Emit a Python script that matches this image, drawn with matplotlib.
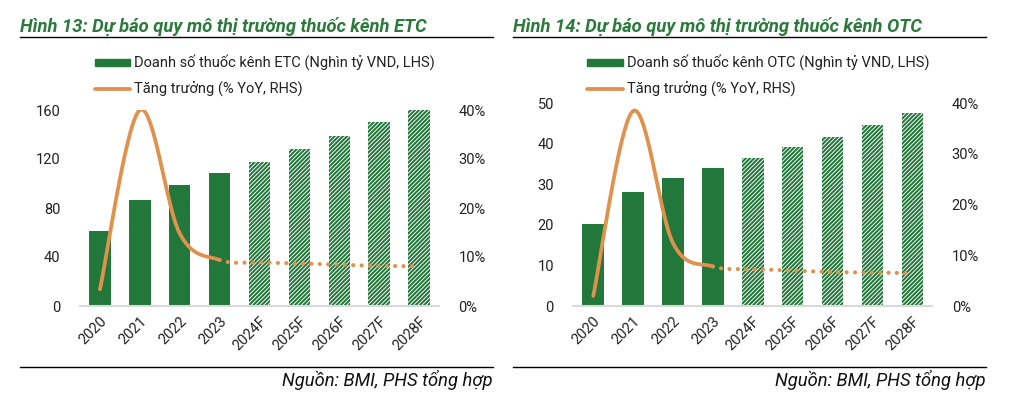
import numpy as np
import matplotlib
matplotlib.use("Agg")
import matplotlib.pyplot as plt
from matplotlib.patches import Rectangle
from matplotlib.lines import Line2D
from matplotlib.ticker import FuncFormatter

plt.rcParams['font.family'] = ['Roboto', 'DejaVu Sans']
plt.rcParams['hatch.linewidth'] = 1.45

years = ["2020", "2021", "2022", "2023", "2024F", "2025F", "2026F", "2027F", "2028F"]
etc_sales = [61.5, 86.5, 98.8, 108.3, 117.3, 128.0, 138.8, 150.2, 160.0]
etc_growth = [3.4, 40.0, 14.8, 9.4, 8.9, 8.7, 8.4, 8.2, 8.1]
otc_sales = [20.2, 28.0, 31.5, 34.0, 36.5, 39.2, 41.7, 44.6, 47.5]
otc_growth = [2.0, 38.5, 12.4, 7.8, 7.3, 7.0, 6.7, 6.6, 6.5]
n_actual = 4

GREEN = "#22773a"
ORANGE = "#e0914c"
TITLE_GREEN = "#2b7a3b"

W, H = 1011, 397
fig = plt.figure(figsize=(W / 100, H / 100), dpi=100)


def px_ax(x0, y0, x1, y1):
    return fig.add_axes([x0 / W, 1 - y1 / H, (x1 - x0) / W, (y1 - y0) / H])


def catmull(xs, ys, n=30):
    xs = np.asarray(xs, float)
    ys = np.asarray(ys, float)
    P = np.column_stack([xs, ys])
    P = np.vstack([P[0], P, P[-1]])
    out = []
    for i in range(1, len(P) - 2):
        p0, p1, p2, p3 = P[i - 1], P[i], P[i + 1], P[i + 2]
        c1 = p1 + (p2 - p0) / 6
        c2 = p2 - (p3 - p1) / 6
        t = np.linspace(0, 1, n)[:, None]
        seg = ((1 - t) ** 3) * p1 + 3 * ((1 - t) ** 2) * t * c1 + 3 * (1 - t) * t ** 2 * c2 + t ** 3 * p2
        out.append(seg if i == 1 else seg[1:])
    c = np.vstack(out)
    return c[:, 0], c[:, 1]


def panel(ox, right_edge, ax_box, sales, growth, ymax, yticks, title):
    x = np.arange(len(years))
    ax = px_ax(*ax_box)
    for i in range(len(years)):
        if i < n_actual:
            ax.bar(x[i], sales[i], width=0.54, color=GREEN, edgecolor=GREEN, linewidth=0, zorder=2)
        else:
            ax.bar(x[i], sales[i], width=0.54, color="white", edgecolor=GREEN, hatch="////////",
                   linewidth=0, zorder=2)
    ax.set_xlim(-0.5, len(years) - 0.5)
    ax.set_ylim(0, ymax)
    ax.set_yticks(yticks)
    ax.set_xticks(x)
    ax.set_xticklabels(years, rotation=45, ha="right", va="top", rotation_mode="anchor", fontsize=10.5)
    ax.tick_params(length=0, labelsize=10.5, colors="#222222")
    ax.tick_params(axis="x", pad=6)
    ax.tick_params(axis="y", pad=14)
    for s in ["top", "right", "left"]:
        ax.spines[s].set_visible(False)
    ax.spines["bottom"].set_color("#d9d9d9")
    ax.spines["bottom"].set_linewidth(1.5)

    ax2 = ax.twinx()
    ax2.set_ylim(0, 40)
    ax2.set_yticks([0, 10, 20, 30, 40])
    ax2.yaxis.set_major_formatter(FuncFormatter(lambda v, p: f"{int(v)}%"))
    ax2.tick_params(length=0, labelsize=10.5, colors="#222222", pad=14)
    for s in ax2.spines.values():
        s.set_visible(False)
    cx, cy = catmull(x, growth)
    split = n_actual - 1
    m = cx <= split + 1e-9
    ax2.plot(cx[m], cy[m], color=ORANGE, lw=2.7, solid_capstyle="round", zorder=3)
    m2 = cx >= split
    ax2.plot(cx[m2], cy[m2], color=ORANGE, lw=3.0, linestyle=(0, (0.01, 2.0)),
             dash_capstyle="round", zorder=3)

    fig.text(ox / W, 1 - 27 / H, title, fontsize=13.2, fontweight="bold", fontstyle="italic",
             color=TITLE_GREEN, ha="left", va="center")
    fig.add_artist(Line2D([ox / W, right_edge / W], [1 - 37 / H, 1 - 37 / H], color="black", lw=1.0))
    fig.add_artist(Line2D([ox / W, right_edge / W], [1 - 367 / H, 1 - 367 / H], color="black", lw=1.0))
    fig.text(right_edge / W, 1 - 380 / H, "Nguồn: BMI, PHS tổng hợp", fontsize=13.2, fontstyle="italic",
             color="#111111", ha="right", va="center")
    return ax


def legend(lx0, lx1, label):
    fig.add_artist(Rectangle((lx0 / W, 1 - 66 / H), (lx1 - lx0) / W, 7 / H, color=GREEN,
                             transform=fig.transFigure))
    fig.text((lx1 + 4) / W, 1 - 62.5 / H, label, fontsize=10.5, ha="left", va="center", color="#222222")
    fig.add_artist(Line2D([lx0 / W, lx1 / W], [1 - 89 / H, 1 - 89 / H], color=ORANGE, lw=2.7,
                          solid_capstyle="round"))
    fig.text((lx1 + 4) / W, 1 - 89 / H, "Tăng trưởng (% YoY, RHS)", fontsize=10.5, ha="left", va="center",
             color="#222222")


panel(20, 493, (80, 110, 439, 306), etc_sales, etc_growth, 160, [0, 40, 80, 120, 160],
      "Hình 13: Dự báo quy mô thị trường thuốc kênh ETC")
legend(95, 130, "Doanh số thuốc kênh ETC (Nghìn tỷ VND, LHS)")

panel(513, 986, (573.3, 103.3, 932.3, 306), otc_sales, otc_growth, 50, [0, 10, 20, 30, 40, 50],
      "Hình 14: Dự báo quy mô thị trường thuốc kênh OTC")
legend(587, 623, "Doanh số thuốc kênh OTC (Nghìn tỷ VND, LHS)")

fig.savefig("out.png", dpi=100, facecolor="white")
